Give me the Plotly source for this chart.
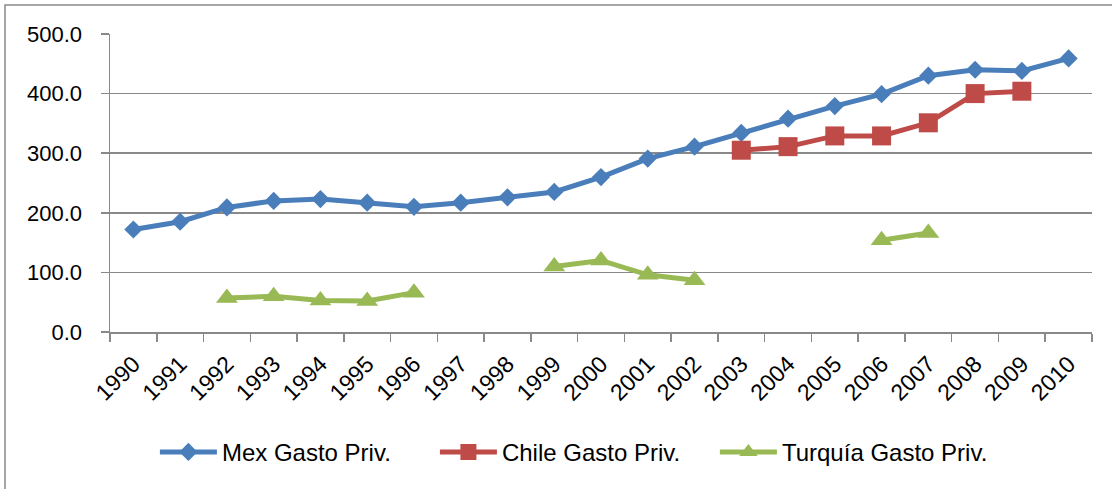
import plotly.graph_objects as go

years = [str(y) for y in range(1990, 2011)]
mex = [172, 185, 209, 220, 223, 217, 210, 217, 226, 235, 260, 291, 311, 334,
       358, 379, 399, 430, 440, 438, 459]
chile = [None] * 13 + [305, 311, 329, 329, 351, 400, 404, None]
turquia = [None, None, 57, 60, 53, 52, 66, None, None, 110, 120, 96, 87,
           None, None, None, 154, 166, None, None, None]
y_ticks = [0, 100, 200, 300, 400, 500]
y_tick_text = [f"{v:.1f}" for v in y_ticks]

FONT = "Liberation Sans, Arial, sans-serif"
W, H = 1112, 489
ML, MR, MT, MB = 110, 20, 34, 157
PW, PH = W - ML - MR, H - MT - MB
GRID = "#898989"

fig = go.Figure()
fig.add_trace(go.Scatter(
    x=years, y=mex, name="Mex Gasto Priv.", mode="lines+markers",
    line=dict(color="#4A7EBB", width=5),
    marker=dict(symbol="diamond", size=14, color="#4A7EBB"),
    connectgaps=False))
fig.add_trace(go.Scatter(
    x=years, y=chile, name="Chile Gasto Priv.", mode="lines+markers",
    line=dict(color="#BE4B48", width=5),
    marker=dict(symbol="square", size=19, color="#BE4B48"),
    connectgaps=False))
fig.add_trace(go.Scatter(
    x=years, y=turquia, name="Turquía Gasto Priv.", mode="lines+markers",
    line=dict(color="#98B954", width=5),
    marker=dict(symbol="triangle-up", size=19, color="#98B954"),
    connectgaps=False))

def px_x(p):
    return (p - ML) / PW

def px_y(p):
    return (H - MB - p) / PH

fig.update_layout(
    width=W, height=H,
    margin=dict(l=ML, r=MR, t=MT, b=MB, autoexpand=False),
    paper_bgcolor="white", plot_bgcolor="white",
    font=dict(family=FONT, size=22, color="black"),
    showlegend=True,
    legend=dict(orientation="h", xref="container", yref="container",
                x=0.517, xanchor="center", y=0.075, yanchor="middle",
                font=dict(family=FONT, size=24, color="black"),
                itemwidth=57, entrywidth=208, bgcolor="rgba(0,0,0,0)"),
    shapes=[dict(type="rect", xref="paper", yref="paper",
                 x0=px_x(5), x1=px_x(1125), y0=px_y(500), y1=px_y(5),
                 line=dict(color=GRID, width=1.5), layer="below")],
)
fig.update_xaxes(
    type="category", categoryorder="array", categoryarray=years,
    tickangle=-45, showgrid=False, showline=True, linecolor=GRID, linewidth=1.5,
    ticks="outside", tickson="boundaries", ticklen=8, tickcolor=GRID, tickwidth=1.5,
    ticklabelstandoff=8, automargin=False,
    tickfont=dict(family=FONT, size=23, color="black"),
    range=[-0.5, len(years) - 0.5], fixedrange=True)
fig.update_yaxes(
    range=[0, 500], tickvals=y_ticks, ticktext=y_tick_text,
    showgrid=True, gridcolor=GRID, gridwidth=1.5,
    showline=True, linecolor=GRID, linewidth=1.5,
    ticks="outside", ticklen=8, tickcolor=GRID, tickwidth=1.5,
    ticklabelstandoff=14, automargin=False,
    tickfont=dict(family=FONT, size=22, color="black"),
    zeroline=False, fixedrange=True)

fig.write_html("out.html",
               config={"displayModeBar": False, "staticPlot": True},
               post_script="document.body.style.margin='0';"
                           "document.body.style.overflow='hidden';")
